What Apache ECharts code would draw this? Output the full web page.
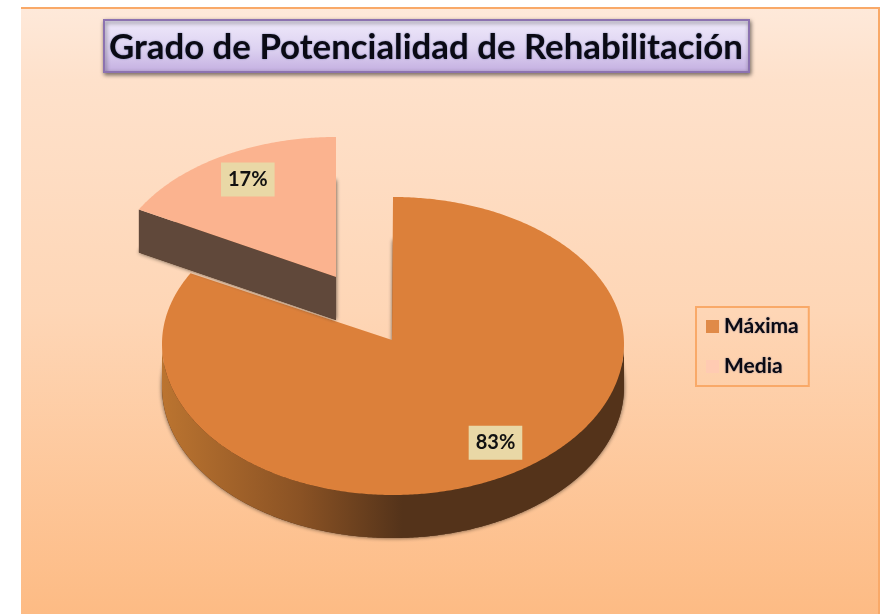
<!DOCTYPE html>
<html>
<head>
<meta charset="utf-8">
<style>
  html, body { margin: 0; padding: 0; background: #fff; }
  #main { width: 884px; height: 614px; }
</style>
<script src="https://cdn.jsdelivr.net/npm/echarts@6/dist/echarts.min.js"></script>
</head>
<body>
<div id="main"></div>
<script>
const titleText = "Grado de Potencialidad de Rehabilitación";
const categories = ["Máxima", "Media"];
const values = [83, 17];

const sliceColors = ["#dc803a", "#fbb38f"];
const legendColors = ["#e08a48", "#ffcbb2"];

// 3D pie look: ECharts pie is always round, so the slices are drawn with custom series
const depth = 43;
const layouts = [
  { cx: 393, cy: 344, rx: 231, ryTop: 147, ryBottom: 151, apexX: 392, apexY: 340, labelX: 0.88, labelY: 0.79, shadow: "rgba(40,30,20,0.75)" },
  { cx: 336, cy: 277, rx: 225, ryTop: 140, ryBottom: 140, apexX: 336, apexY: 277, labelX: 0.77, labelY: 0.81, shadow: "rgba(60,50,40,0.9)" }
];
const wallFills = [
  {
    type: "linear", x: 0, y: 0, x2: 1, y2: 0,
    colorStops: [
      { offset: 0, color: "#bb7430" },
      { offset: 0.3, color: "#8a5224" },
      { offset: 0.52, color: "#54331a" },
      { offset: 1, color: "#54331a" }
    ]
  },
  "#60483a"
];

const total = values.reduce((a, b) => a + b, 0);

function arcPoint(l, angle) {
  const c = Math.cos(angle);
  return [l.cx + l.rx * Math.sin(angle), l.cy - (c > 0 ? l.ryTop : l.ryBottom) * c];
}

function arcPoints(l, from, to) {
  const pts = [];
  const n = Math.max(2, Math.ceil(Math.abs(to - from) / 0.01));
  for (let i = 0; i <= n; i++) {
    pts.push(arcPoint(l, from + (to - from) * i / n));
  }
  return pts;
}

function down(pts) {
  return pts.map(p => [p[0], p[1] + depth]);
}

function renderSlice(index) {
  return function (params, api) {
    const l = layouts[index];
    const before = values.slice(0, index).reduce((a, b) => a + b, 0);
    const from = before / total * Math.PI * 2;
    const to = (before + api.value(0)) / total * Math.PI * 2;
    const apex = [l.apexX, l.apexY];
    const rim = arcPoints(l, from, to);
    const top = [apex].concat(rim);

    // part of the side that faces the viewer
    let wall;
    if (index === 0) {
      const front = arcPoints(l, Math.PI / 2, Math.min(to, Math.PI * 1.5));
      wall = front.concat(down(front).reverse());
    } else {
      const tip = rim[0];
      wall = [tip, apex, [apex[0], apex[1] + depth], [tip[0], tip[1] + depth]];
    }

    const mid = (from + to) / 2;
    const labelX = l.apexX + l.rx * l.labelX * Math.sin(mid);
    const labelY = l.apexY - (Math.cos(mid) > 0 ? l.ryTop : l.ryBottom) * l.labelY * Math.cos(mid);

    return {
      type: "group",
      children: [
        {
          type: "polygon",
          shape: { points: down(top) },
          style: {
            fill: "#54331a",
            shadowBlur: 4,
            shadowColor: l.shadow
          }
        },
        { type: "polygon", shape: { points: wall }, style: { fill: wallFills[index] } },
        { type: "polygon", shape: { points: top }, style: { fill: sliceColors[index] } },
        {
          type: "text",
          style: {
            x: labelX,
            y: labelY,
            text: api.value(0) + "%",
            align: "center",
            verticalAlign: "middle",
            fill: "#111111",
            font: "bold 20px Lato",
            backgroundColor: "#e9d8a6",
            padding: [7, 7, 7, 7]
          }
        }
      ]
    };
  };
}

const chart = echarts.init(document.getElementById("main"));

chart.setOption({
  animation: false,
  graphic: [
    {
      type: "rect",
      z: -10,
      shape: { x: 21, y: 8, width: 858, height: 606 },
      style: {
        fill: {
          type: "linear", x: 0, y: 0, x2: 0, y2: 1,
          colorStops: [
            { offset: 0, color: "#fee9da" },
            { offset: 0.12, color: "#fee1cb" },
            { offset: 0.5, color: "#fed6b6" },
            { offset: 1, color: "#fdbb84" }
          ]
        }
      }
    },
    { type: "rect", z: -9, shape: { x: 21, y: 7, width: 859, height: 2 }, style: { fill: "#f9a968" } },
    { type: "rect", z: -9, shape: { x: 878, y: 7, width: 2, height: 607 }, style: { fill: "#f9a968" } }
  ],
  title: {
    text: titleText,
    left: 104,
    top: 20,
    padding: [10, 6, 7, 5],
    borderColor: "#8c72b0",
    borderWidth: 2,
    backgroundColor: {
      type: "linear", x: 0, y: 0, x2: 0, y2: 1,
      colorStops: [
        { offset: 0, color: "#f0eafb" },
        { offset: 0.55, color: "#ddd2f1" },
        { offset: 1, color: "#c3aee0" }
      ]
    },
    shadowBlur: 4,
    shadowColor: "rgba(0,0,0,0.5)",
    shadowOffsetX: 1,
    shadowOffsetY: 2,
    textStyle: {
      fontFamily: "Lato",
      fontWeight: "bold",
      fontSize: 34.8,
      color: "#0a0a14",
      textShadowColor: "rgba(20,40,110,0.5)",
      textShadowBlur: 2
    }
  },
  legend: {
    orient: "vertical",
    left: 696,
    top: 307,
    padding: [9, 10, 9, 10],
    itemGap: 19,
    itemWidth: 13,
    itemHeight: 13,
    selectedMode: false,
    borderColor: "#f9a968",
    borderWidth: 2,
    borderRadius: 0,
    icon: "rect",
    textStyle: {
      fontFamily: "Lato",
      fontWeight: "bold",
      fontSize: 21,
      color: "#0a0a14",
      textShadowColor: "rgba(20,40,110,0.4)",
      textShadowBlur: 2
    },
    data: categories.map((name, i) => ({ name: name, itemStyle: { color: legendColors[i] } }))
  },
  series: categories.map((name, i) => ({
    type: "custom",
    name: name,
    coordinateSystem: "none",
    silent: true,
    itemStyle: { color: sliceColors[i] },
    renderItem: renderSlice(i),
    data: [[values[i]]]
  }))
});
</script>
</body>
</html>
